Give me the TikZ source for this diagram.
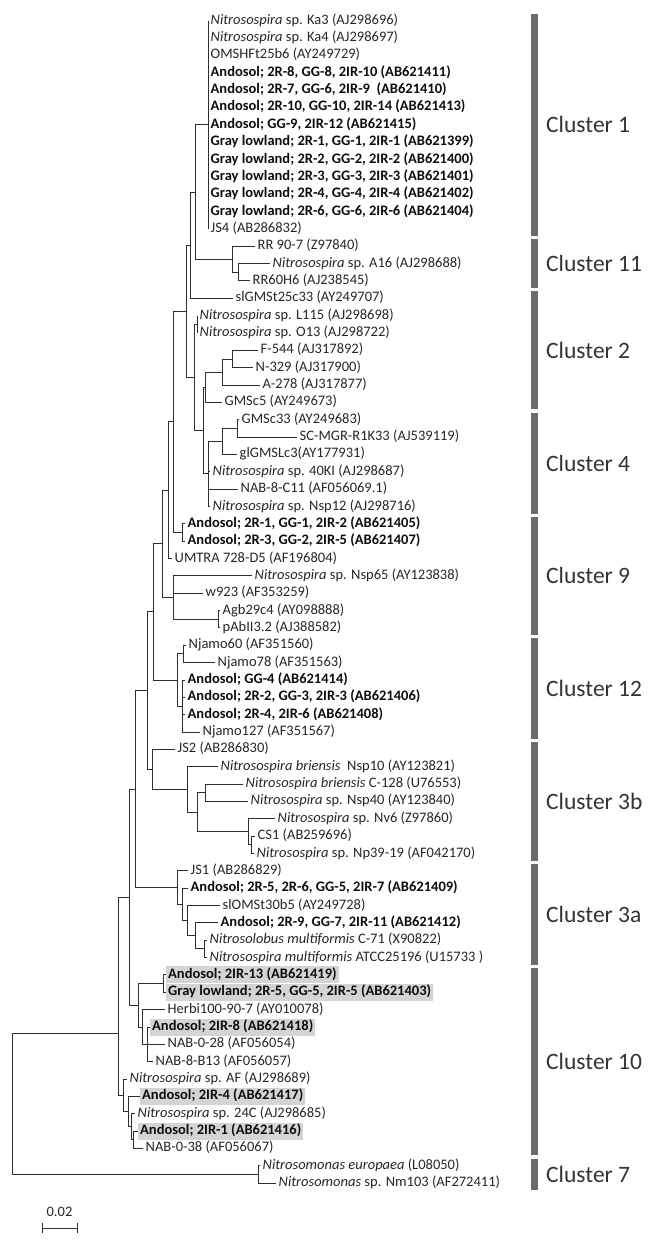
\documentclass[tikz,border=0pt]{standalone}
\usepackage{fontspec}
\setmainfont{Carlito}
\newcommand\ry[1]{(20.7+17.35*(#1))}
\begin{document}
\begin{tikzpicture}[x=1pt,y=-1pt,
  br/.style={line width=1pt, draw=black!82},
  leaf/.style={anchor=west, inner xsep=2.5pt, inner ysep=2pt, font=\fontsize{14.5}{16}\selectfont, text=black!85, text height=10pt, text depth=3pt},
  bleaf/.style={leaf, font=\fontsize{14.5}{16}\selectfont\bfseries, text=black!95},
  hl/.style={bleaf, fill=black!17, inner xsep=2pt},
  bar/.style={fill=black!58, draw=none},
  clab/.style={anchor=west, inner sep=0pt, font=\fontsize{23.5}{26}\selectfont, text=black!80}]
\useasboundingbox (0,0) rectangle (656,1245);

% ---------- leaves ----------
\node[leaf]  (L0)  at (208,{\ry{0}})  {\textit{Nitrosospira} sp. Ka3 (AJ298696)};
\node[leaf]  (L1)  at (208,{\ry{1}})  {\textit{Nitrosospira} sp. Ka4 (AJ298697)};
\node[leaf]  (L2)  at (208,{\ry{2}})  {OMSHFt25b6 (AY249729)};
\node[bleaf] (L3)  at (208,{\ry{3}})  {Andosol; 2R-8, GG-8, 2IR-10 (AB621411)};
\node[bleaf] (L4)  at (208,{\ry{4}})  {Andosol; 2R-7, GG-6, 2IR-9~ (AB621410)};
\node[bleaf] (L5)  at (208,{\ry{5}})  {Andosol; 2R-10, GG-10, 2IR-14 (AB621413)};
\node[bleaf] (L6)  at (208,{\ry{6}})  {Andosol; GG-9, 2IR-12 (AB621415)};
\node[bleaf] (L7)  at (208,{\ry{7}})  {Gray lowland; 2R-1, GG-1, 2IR-1 (AB621399)};
\node[bleaf] (L8)  at (208,{\ry{8}})  {Gray lowland; 2R-2, GG-2, 2IR-2 (AB621400)};
\node[bleaf] (L9)  at (208,{\ry{9}})  {Gray lowland; 2R-3, GG-3, 2IR-3 (AB621401)};
\node[bleaf] (L10) at (208,{\ry{10}}) {Gray lowland; 2R-4, GG-4, 2IR-4 (AB621402)};
\node[bleaf] (L11) at (208,{\ry{11}}) {Gray lowland; 2R-6, GG-6, 2IR-6 (AB621404)};
\node[leaf]  (L12) at (208,{\ry{12}}) {JS4 (AB286832)};
\node[leaf]  (L13) at (255,{\ry{13}}) {RR 90-7 (Z97840)};
\node[leaf]  (L14) at (270,{\ry{14}}) {\textit{Nitrosospira} sp. A16 (AJ298688)};
\node[leaf]  (L15) at (250,{\ry{15}}) {RR60H6 (AJ238545)};
\node[leaf]  (L16) at (233,{\ry{16}}) {slGMSt25c33 (AY249707)};
\node[leaf]  (L17) at (197,{\ry{17}}) {\textit{Nitrosospira} sp. L115 (AJ298698)};
\node[leaf]  (L18) at (197,{\ry{18}}) {\textit{Nitrosospira} sp. O13 (AJ298722)};
\node[leaf]  (L19) at (258,{\ry{19}}) {F-544 (AJ317892)};
\node[leaf]  (L20) at (253,{\ry{20}}) {N-329 (AJ317900)};
\node[leaf]  (L21) at (260,{\ry{21}}) {A-278 (AJ317877)};
\node[leaf]  (L22) at (222,{\ry{22}}) {GMSc5 (AY249673)};
\node[leaf]  (L23) at (239,{\ry{23}}) {GMSc33 (AY249683)};
\node[leaf]  (L24) at (297,{\ry{24}}) {SC-MGR-R1K33 (AJ539119)};
\node[leaf]  (L25) at (237,{\ry{25}}) {glGMSLc3(AY177931)};
\node[leaf]  (L26) at (210,{\ry{26}}) {\textit{Nitrosospira} sp. 40KI (AJ298687)};
\node[leaf]  (L27) at (238,{\ry{27}}) {NAB-8-C11 (AF056069.1)};
\node[leaf]  (L28) at (210,{\ry{28}}) {\textit{Nitrosospira} sp. Nsp12 (AJ298716)};
\node[bleaf] (L29) at (185,{\ry{29}}) {Andosol; 2R-1, GG-1, 2IR-2 (AB621405)};
\node[bleaf] (L30) at (185,{\ry{30}}) {Andosol; 2R-3, GG-2, 2IR-5 (AB621407)};
\node[leaf]  (L31) at (172,{\ry{31}}) {UMTRA 728-D5 (AF196804)};
\node[leaf]  (L32) at (252,{\ry{32}}) {\textit{Nitrosospira} sp. Nsp65 (AY123838)};
\node[leaf]  (L33) at (203,{\ry{33}}) {w923 (AF353259)};
\node[leaf]  (L34) at (220,{\ry{34}}) {Agb29c4 (AY098888)};
\node[leaf]  (L35) at (220,{\ry{35}}) {pAbII3.2 (AJ388582)};
\node[leaf]  (L36) at (186,{\ry{36}}) {Njamo60 (AF351560)};
\node[leaf]  (L37) at (215,{\ry{37}}) {Njamo78 (AF351563)};
\node[bleaf] (L38) at (185,{\ry{38}}) {Andosol; GG-4 (AB621414)};
\node[bleaf] (L39) at (185,{\ry{39}}) {Andosol; 2R-2, GG-3, 2IR-3 (AB621406)};
\node[bleaf] (L40) at (185,{\ry{40}}) {Andosol; 2R-4, 2IR-6 (AB621408)};
\node[leaf]  (L41) at (200,{\ry{41}}) {Njamo127 (AF351567)};
\node[leaf]  (L42) at (175,{\ry{42}}) {JS2 (AB286830)};
\node[leaf]  (L43) at (218,{\ry{43}}) {\textit{Nitrosospira briensis}~ Nsp10 (AY123821)};
\node[leaf]  (L44) at (243,{\ry{44}}) {\textit{Nitrosospira briensis} C-128 (U76553)};
\node[leaf]  (L45) at (248,{\ry{45}}) {\textit{Nitrosospira} sp. Nsp40 (AY123840)};
\node[leaf]  (L46) at (275,{\ry{46}}) {\textit{Nitrosospira} sp. Nv6 (Z97860)};
\node[leaf]  (L47) at (255,{\ry{47}}) {CS1 (AB259696)};
\node[leaf]  (L48) at (254,{\ry{48}}) {\textit{Nitrosospira} sp. Np39-19 (AF042170)};
\node[leaf]  (L49) at (188,{\ry{49}}) {JS1 (AB286829)};
\node[bleaf] (L50) at (188,{\ry{50}}) {Andosol; 2R-5, 2R-6, GG-5, 2IR-7 (AB621409)};
\node[leaf]  (L51) at (220,{\ry{51}}) {slOMSt30b5 (AY249728)};
\node[bleaf] (L52) at (218,{\ry{52}}) {Andosol; 2R-9, GG-7, 2IR-11 (AB621412)};
\node[leaf]  (L53) at (207,{\ry{53}}) {\textit{Nitrosolobus multiformis} C-71 (X90822)};
\node[leaf]  (L54) at (207,{\ry{54}}) {\textit{Nitrosospira multiformis} ATCC25196 (U15733 )};
\node[hl]    (L55) at (166,{\ry{55}}) {Andosol; 2IR-13 (AB621419)};
\node[hl]    (L56) at (166,{\ry{56}}) {Gray lowland; 2R-5, GG-5, 2IR-5 (AB621403)};
\node[leaf]  (L57) at (165,{\ry{57}}) {Herbi100-90-7 (AY010078)};
\node[hl]    (L58) at (150,{\ry{58}}) {Andosol; 2IR-8 (AB621418)};
\node[leaf]  (L59) at (165,{\ry{59}}) {NAB-0-28 (AF056054)};
\node[leaf]  (L60) at (153,{\ry{60}}) {NAB-8-B13 (AF056057)};
\node[leaf]  (L61) at (127,{\ry{61}}) {\textit{Nitrosospira} sp. AF (AJ298689)};
\node[hl]    (L62) at (140,{\ry{62}}) {Andosol; 2IR-4 (AB621417)};
\node[leaf]  (L63) at (135,{\ry{63}}) {\textit{Nitrosospira} sp. 24C (AJ298685)};
\node[hl]    (L64) at (138,{\ry{64}}) {Andosol; 2IR-1 (AB621416)};
\node[leaf]  (L65) at (143,{\ry{65}}) {NAB-0-38 (AF056067)};
\node[leaf]  (L66) at (260,{\ry{66}}) {\textit{Nitrosomonas europaea} (L08050)};
\node[leaf]  (L67) at (276,{\ry{67}}) {\textit{Nitrosomonas} sp. Nm103 (AF272411)};

% ---------- internal nodes ----------
\coordinate (c1)  at (208,{\ry{6}});
\coordinate (s11) at (238,{\ry{14.5}});
\coordinate (c11) at (232,{\ry{13.75}});
\coordinate (nB)  at (195,{\ry{9.875}});
\coordinate (nC)  at (190,{\ry{12.9375}});
\coordinate (LO)  at (197,{\ry{17.5}});
\coordinate (n2a) at (232,{\ry{19.5}});
\coordinate (n2b) at (222,{\ry{20.25}});
\coordinate (nG)  at (205,{\ry{21.125}});
\coordinate (n4a) at (237,{\ry{23.5}});
\coordinate (n4b) at (222,{\ry{24.25}});
\coordinate (nK)  at (208,{\ry{26.125}});
\coordinate (nF)  at (203,{\ry{23.625}});
\coordinate (nE)  at (194,{\ry{20.5625}});
\coordinate (nD)  at (186,{\ry{16.75}});
\coordinate (nQ)  at (182,{\ry{29.5}});
\coordinate (nP)  at (173,{\ry{23.125}});
\coordinate (nR)  at (168,{\ry{27.0625}});
\coordinate (nAG) at (218,{\ry{34.5}});
\coordinate (nU)  at (173,{\ry{33.25}});
\coordinate (nS)  at (162,{\ry{30.156}});
\coordinate (nNJ) at (183,{\ry{36.5}});
\coordinate (nW)  at (182,{\ry{39.5}});
\coordinate (nV)  at (177,{\ry{38}});
\coordinate (nT)  at (153,{\ry{34.078}});
\coordinate (nCN) at (251,{\ry{47.5}});
\coordinate (nEE) at (248,{\ry{46.75}});
\coordinate (nCC) at (205,{\ry{44.5}});
\coordinate (nDD) at (197,{\ry{45.625}});
\coordinate (nZ)  at (187,{\ry{44.3125}});
\coordinate (nY)  at (152,{\ry{43.156}});
\coordinate (nX)  at (147,{\ry{38.617}});
\coordinate (nJJ) at (204,{\ry{53.5}});
\coordinate (nII) at (195,{\ry{52.75}});
\coordinate (nHH) at (187,{\ry{51.875}});
\coordinate (nGG) at (182,{\ry{50.9375}});
\coordinate (nFF) at (177,{\ry{49.97}});
\coordinate (nAA) at (135,{\ry{44.29}});
\coordinate (nMM) at (163,{\ry{55.5}});
\coordinate (nOO) at (147,{\ry{59}});
\coordinate (nNN) at (142,{\ry{58}});
\coordinate (nLL) at (138,{\ry{56.75}});
\coordinate (nBB) at (129,{\ry{50.52}});
\coordinate (nPP) at (133,{\ry{64.5}});
\coordinate (nQQ) at (131,{\ry{63.75}});
\coordinate (nRR) at (128,{\ry{62.875}});
\coordinate (nSS) at (123,{\ry{61.94}});
\coordinate (nKK) at (118,{\ry{58.35}});
\coordinate (nNM) at (258,{\ry{66.5}});
\coordinate (root) at (12,{\ry{58.35}});

% ---------- branches ----------
\foreach \l in {L0,L1,L2,L3,L4,L5,L6,L7,L8,L9,L10,L11,L12} {\draw[br] (c1) |- (\l.west);}
\draw[br] (c11) |- (L13.west);  \draw[br] (c11) |- (s11);
\draw[br] (s11) |- (L14.west);  \draw[br] (s11) |- (L15.west);
\draw[br] (nB) |- (c1);   \draw[br] (nB) |- (c11);
\draw[br] (nC) |- (nB);   \draw[br] (nC) |- (L16.west);
\draw[br] (LO) |- (L17.west); \draw[br] (LO) |- (L18.west);
\draw[br] (n2a) |- (L19.west); \draw[br] (n2a) |- (L20.west);
\draw[br] (n2b) |- (n2a); \draw[br] (n2b) |- (L21.west);
\draw[br] (nG) |- (n2b);  \draw[br] (nG) |- (L22.west);
\draw[br] (n4a) |- (L23.west); \draw[br] (n4a) |- (L24.west);
\draw[br] (n4b) |- (n4a); \draw[br] (n4b) |- (L25.west);
\draw[br] (nK) |- (n4b);  \draw[br] (nK) |- (L26.west); \draw[br] (nK) |- (L27.west); \draw[br] (nK) |- (L28.west);
\draw[br] (nF) |- (nG);   \draw[br] (nF) |- (nK);
\draw[br] (nE) |- (LO);   \draw[br] (nE) |- (nF);
\draw[br] (nD) |- (nC);   \draw[br] (nD) |- (nE);
\draw[br] (nQ) |- (L29.west); \draw[br] (nQ) |- (L30.west);
\draw[br] (nP) |- (nD);   \draw[br] (nP) |- (nQ);
\draw[br] (nR) |- (nP);   \draw[br] (nR) |- (L31.west);
\draw[br] (nAG) |- (L34.west); \draw[br] (nAG) |- (L35.west);
\draw[br] (nU) |- (L32.west); \draw[br] (nU) |- (L33.west); \draw[br] (nU) |- (nAG);
\draw[br] (nS) |- (nR);   \draw[br] (nS) |- (nU);
\draw[br] (nNJ) |- (L36.west); \draw[br] (nNJ) |- (L37.west);
\foreach \l in {L38,L39,L40,L41} {\draw[br] (nW) |- (\l.west);}
\draw[br] (nV) |- (nNJ);  \draw[br] (nV) |- (nW);
\draw[br] (nT) |- (nS);   \draw[br] (nT) |- (nV);
\draw[br] (nCN) |- (L47.west); \draw[br] (nCN) |- (L48.west);
\draw[br] (nEE) |- (L46.west); \draw[br] (nEE) |- (nCN);
\draw[br] (nCC) |- (L44.west); \draw[br] (nCC) |- (L45.west);
\draw[br] (nDD) |- (nCC); \draw[br] (nDD) |- (nEE);
\draw[br] (nZ) |- (L43.west); \draw[br] (nZ) |- (nDD);
\draw[br] (nY) |- (L42.west); \draw[br] (nY) |- (nZ);
\draw[br] (nX) |- (nT);   \draw[br] (nX) |- (nY);
\draw[br] (nJJ) |- (L53.west); \draw[br] (nJJ) |- (L54.west);
\draw[br] (nII) |- (L52.west); \draw[br] (nII) |- (nJJ);
\draw[br] (nHH) |- (L51.west); \draw[br] (nHH) |- (nII);
\draw[br] (nGG) |- (L50.west); \draw[br] (nGG) |- (nHH);
\draw[br] (nFF) |- (L49.west); \draw[br] (nFF) |- (nGG);
\draw[br] (nAA) |- (nX);  \draw[br] (nAA) |- (nFF);
\draw[br] (nMM) |- (L55.west); \draw[br] (nMM) |- (L56.west);
\draw[br] (nOO) |- (L58.west); \draw[br] (nOO) |- (L59.west); \draw[br] (nOO) |- (L60.west);
\draw[br] (nNN) |- (L57.west); \draw[br] (nNN) |- (nOO);
\draw[br] (nLL) |- (nMM); \draw[br] (nLL) |- (nNN);
\draw[br] (nBB) |- (nAA); \draw[br] (nBB) |- (nLL);
\draw[br] (nPP) |- (L64.west); \draw[br] (nPP) |- (L65.west);
\draw[br] (nQQ) |- (L63.west); \draw[br] (nQQ) |- (nPP);
\draw[br] (nRR) |- (L62.west); \draw[br] (nRR) |- (nQQ);
\draw[br] (nSS) |- (L61.west); \draw[br] (nSS) |- (nRR);
\draw[br] (nKK) |- (nBB); \draw[br] (nKK) |- (nSS);
\draw[br] (nNM) |- (L66.west); \draw[br] (nNM) |- (L67.west);
\draw[br] (root) -- (nKK); \draw[br] (root) |- (nNM);

% ---------- cluster bars ----------
\fill[bar] (531,{\ry{0}-7})  rectangle (538,{\ry{12}+7});
\fill[bar] (531,{\ry{13}-7}) rectangle (538,{\ry{15}+7});
\fill[bar] (531,{\ry{16}-7}) rectangle (538,{\ry{22}+7});
\fill[bar] (531,{\ry{23}-7}) rectangle (538,{\ry{28}+7});
\fill[bar] (531,{\ry{29}-7}) rectangle (538,{\ry{35}+7});
\fill[bar] (531,{\ry{36}-7}) rectangle (538,{\ry{41}+7});
\fill[bar] (531,{\ry{42}-7}) rectangle (538,{\ry{48}+7});
\fill[bar] (531,{\ry{49}-7}) rectangle (538,{\ry{54}+7});
\fill[bar] (531,{\ry{55}-7}) rectangle (538,{\ry{65}+7});
\fill[bar] (531,{\ry{66}-7}) rectangle (538,{\ry{67}+7});
\node[clab] (k1)  at (546,{\ry{6}})    {Cluster 1};
\node[clab] (k11) at (546,{\ry{14}})   {Cluster 11};
\node[clab] (k2)  at (546,{\ry{19}})   {Cluster 2};
\node[clab] (k4)  at (546,{\ry{25.5}}) {Cluster 4};
\node[clab] (k9)  at (546,{\ry{32}})   {Cluster 9};
\node[clab] (k12) at (546,{\ry{38.5}}) {Cluster 12};
\node[clab] (k3b) at (546,{\ry{45}})   {Cluster 3b};
\node[clab] (k3a) at (546,{\ry{51.5}}) {Cluster 3a};
\node[clab] (k10) at (546,{\ry{60}})   {Cluster 10};
\node[clab] (k7)  at (546,{\ry{66.5}}) {Cluster 7};

% ---------- scale bar ----------
\coordinate (sbA) at (42,1228);
\coordinate (sbB) at (77,1228);
\draw[br] (sbA) -- (sbB);
\draw[br] ([yshift=-5pt]sbA) -- ([yshift=5pt]sbA);
\draw[br] ([yshift=-5pt]sbB) -- ([yshift=5pt]sbB);
\node[font=\fontsize{14.5}{16}\selectfont, text=black!85] (sbl) at (59.5,1212) {0.02};
\end{tikzpicture}
\end{document}
